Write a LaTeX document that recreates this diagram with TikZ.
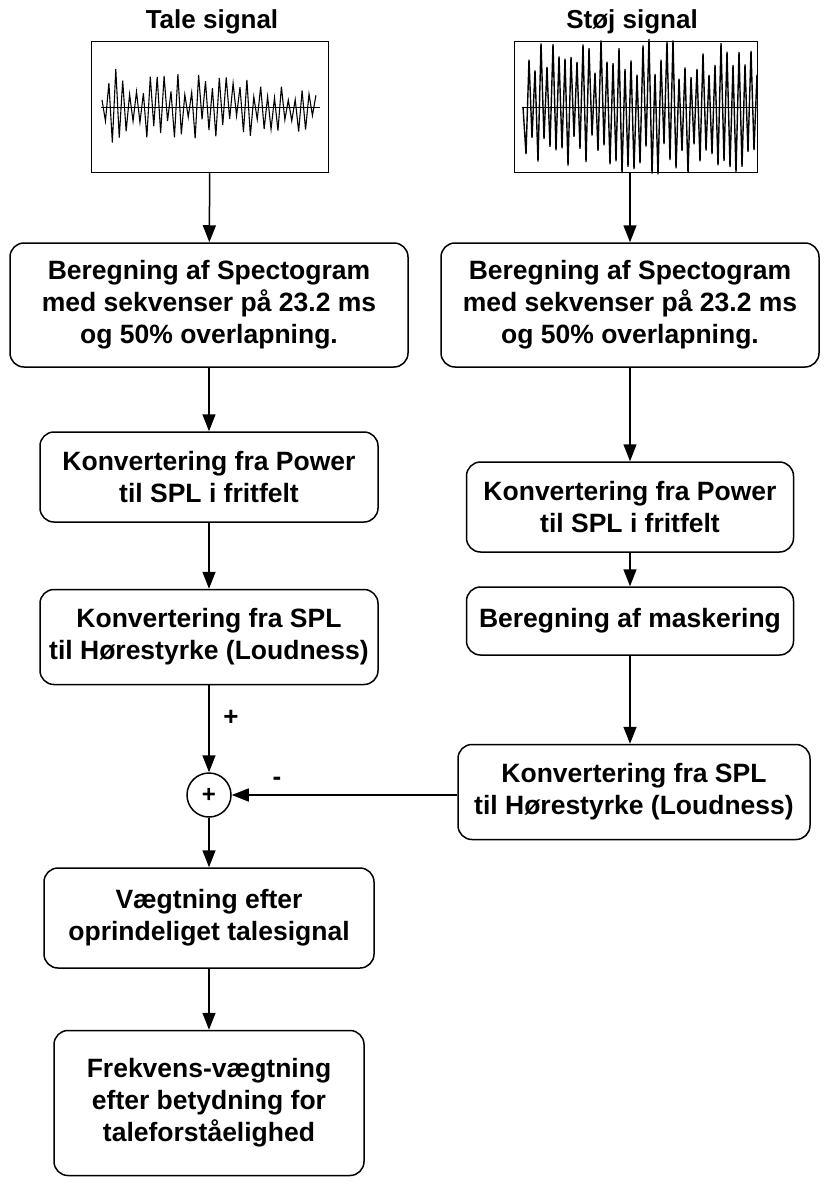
\documentclass[tikz,border=0pt]{standalone}
\usepackage{fontspec}
\setmainfont{Liberation Sans}
\usetikzlibrary{arrows.meta,positioning}

\begin{document}
\begin{tikzpicture}[x=1pt,y=-1pt,line width=1.5pt,
  box/.style={draw,rounded corners=14pt,align=center,inner sep=0pt,
    font=\bfseries\fontsize{26.5}{32}\selectfont},
  signal/.style={draw,inner sep=0pt},
  title/.style={font=\bfseries\fontsize{26}{28}\selectfont},
  flow/.style={-{Triangle[length=17pt,width=13pt]}}]
\useasboundingbox (0,0) rectangle (824,1201);

% signals
\node (taleTitle) [title] at (212,22) {Tale signal};
\node (taleBox) [signal, minimum width=237, minimum height=131] at (210,107) {};
\node (stoejTitle) [title] at (632,22) {Støj signal};
\node (stoejBox) [signal, minimum width=243, minimum height=131] at (636,107) {};

\pgfmathsetseed{7}
\draw[line width=0.8pt] (101,107) -- (320,107);
\draw[line width=1.1pt] (102,100)
  \foreach \i in {1,...,62} {
    -- ({102+\i*3.45},{107+(2*mod(\i,2)-1)*(10+30*rnd)*(1-0.4*\i/62)})
  };
\draw[line width=0.8pt] (522,107) -- (758,107);
\draw[line width=1.4pt] (523,107)
  \foreach \i in {1,...,78} {
    -- ({523+\i*3.0},{107+(2*mod(\i,2)-1)*(28+40*rnd)})
  };

% left column
\node (taleSpec) [box, minimum width=398, minimum height=124] at (209,305)
  {Beregning af Spectogram\\med sekvenser på 23.2 ms\\og 50\% overlapning.};
\node (talePower) [box, minimum width=338, minimum height=90] at (209,477)
  {Konvertering fra Power\\til SPL i fritfelt};
\node (taleLoud) [box, minimum width=338, minimum height=95] at (209,637)
  {Konvertering fra SPL\\til Hørestyrke (Loudness)};
\node (sum) [draw, circle, minimum size=44, inner sep=0pt,
  font=\bfseries\fontsize{24}{24}\selectfont] at (209,795) {+};
\node (vaegt) [box, minimum width=330, minimum height=100] at (209,918)
  {Vægtning efter\\oprindeliget talesignal};
\node (frekvens) [box, minimum width=310, minimum height=145] at (209,1103)
  {Frekvens-vægtning\\efter betydning for\\taleforståelighed};

% right column
\node (stoejSpec) [box, minimum width=378, minimum height=124] at (630,305)
  {Beregning af Spectogram\\med sekvenser på 23.2 ms\\og 50\% overlapning.};
\node (stoejPower) [box, minimum width=327, minimum height=90] at (630,507)
  {Konvertering fra Power\\til SPL i fritfelt};
\node (maskering) [box, minimum width=327, minimum height=68] at (630,621)
  {Beregning af maskering};
\node (stoejLoud) [box, minimum width=352, minimum height=95] at (634,792)
  {Konvertering fra SPL\\til Hørestyrke (Loudness)};

\node (plusLabel) [title] at (231,718) {+};
\node (minusLabel) [title] at (277,781) {-};

\draw[flow] (taleBox) -- (taleSpec);
\draw[flow] (taleSpec) -- (talePower);
\draw[flow] (talePower) -- (taleLoud);
\draw[flow] (taleLoud) -- (sum);
\draw[flow] (sum) -- (vaegt);
\draw[flow] (vaegt) -- (frekvens);

\draw[flow] (stoejBox.south -| stoejSpec) -- (stoejSpec);
\draw[flow] (stoejSpec) -- (stoejPower);
\draw[flow] (stoejPower) -- (maskering);
\draw[flow] (maskering.south) -- (maskering.south |- stoejLoud.north);
\draw[flow] (stoejLoud.west |- sum) -- (sum);
\end{tikzpicture}
\end{document}
